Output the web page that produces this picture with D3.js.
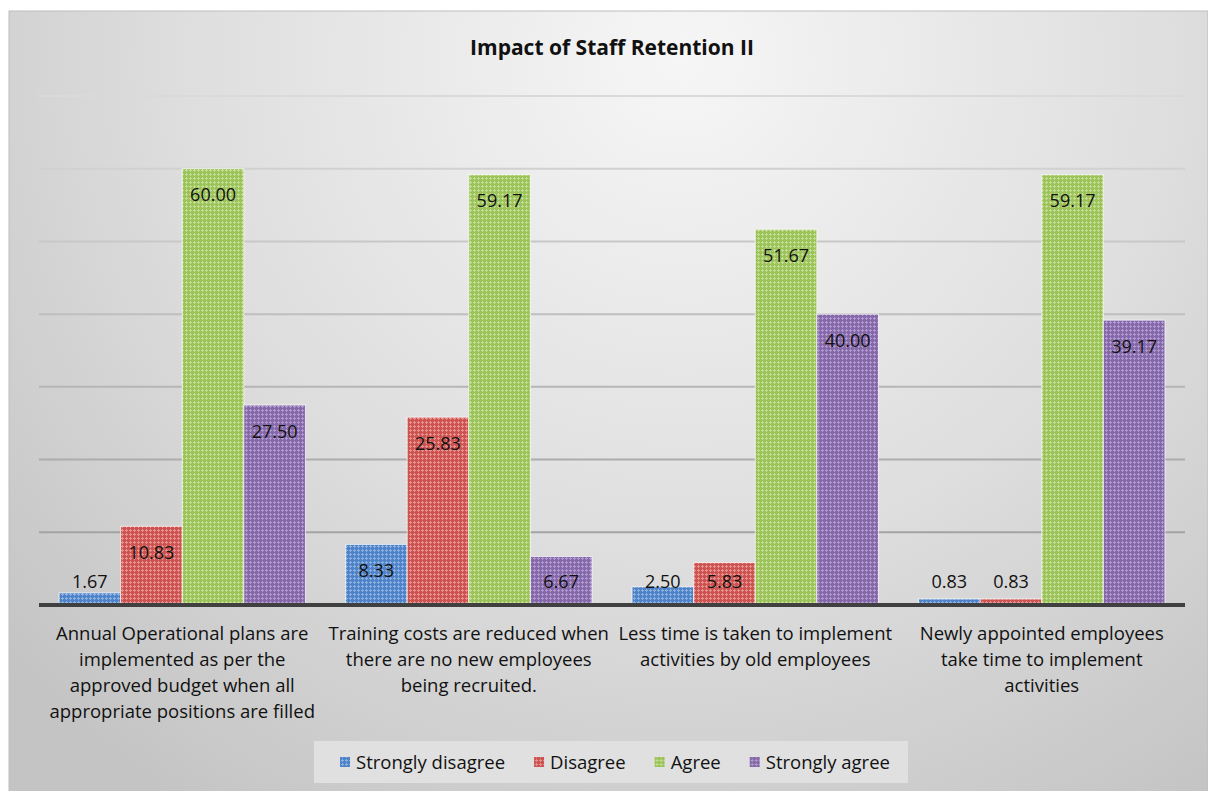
<!DOCTYPE html>
<html lang="en">

<head>
    <meta charset="UTF-8">
    <title>Impact of Staff Retention II</title>
    <script src="https://d3js.org/d3.v7.min.js"></script>
    <style>
        body {
            margin: 0;
            background-color: white;
        }

        #chart text {
            font-family: "Open Sans", Lato, sans-serif;
            fill: #111;
        }
    </style>
</head>

<body>
    <svg id="chart" width="1208" height="791"></svg>
    <script>
        const title = 'Impact of Staff Retention II';

        const categories = [
            ['Annual Operational plans are', 'implemented as per the', 'approved budget when all', 'appropriate positions are filled'],
            ['Training costs are reduced when', 'there are no new employees', 'being recruited.'],
            ['Less time is taken to implement', 'activities by old employees'],
            ['Newly appointed employees', 'take time to implement', 'activities']
        ];

        const seriesNames = ['Strongly disagree', 'Disagree', 'Agree', 'Strongly agree'];

        const stronglyDisagree = [1.67, 8.33, 2.50, 0.83];
        const disagree = [10.83, 25.83, 5.83, 0.83];
        const agree = [60.00, 59.17, 51.67, 59.17];
        const stronglyAgree = [27.50, 6.67, 40.00, 39.17];

        const yTicks = [0, 10, 20, 30, 40, 50, 60, 70];

        const seriesValues = [stronglyDisagree, disagree, agree, stronglyAgree];

        // base colour and the lighter dot colour of each bar pattern
        const colors = [
            { base: '#4f83c8', dot: '#8cb0e0' },
            { base: '#cc534f', dot: '#e59290' },
            { base: '#9cc35a', dot: '#c3dd95' },
            { base: '#8568aa', dot: '#b09acd' }
        ];

        const svg = d3.select('#chart');
        const defs = svg.append('defs');

        // chart background
        const bg = defs.append('radialGradient')
            .attr('id', 'bg')
            .attr('gradientUnits', 'userSpaceOnUse')
            .attr('cx', 680).attr('cy', 60).attr('r', 900);
        bg.append('stop').attr('offset', '0%').attr('stop-color', '#f6f6f6');
        bg.append('stop').attr('offset', '55%').attr('stop-color', '#dedede');
        bg.append('stop').attr('offset', '100%').attr('stop-color', '#c4c4c4');

        const gridGrad = defs.append('linearGradient')
            .attr('id', 'gridGrad')
            .attr('gradientUnits', 'userSpaceOnUse')
            .attr('x1', 0).attr('y1', 96).attr('x2', 0).attr('y2', 605);
        gridGrad.append('stop').attr('offset', '0%').attr('stop-color', '#dadada');
        gridGrad.append('stop').attr('offset', '100%').attr('stop-color', '#9a9a9a');

        colors.forEach((c, i) => {
            const p = defs.append('pattern')
                .attr('id', 'pat' + i)
                .attr('patternUnits', 'userSpaceOnUse')
                .attr('width', 4).attr('height', 4);
            p.append('rect').attr('width', 4).attr('height', 4).attr('fill', c.base);
            p.append('rect').attr('x', 2).attr('y', 1).attr('width', 1).attr('height', 3).attr('fill', c.dot);
            p.append('rect').attr('x', 1).attr('y', 2).attr('width', 3).attr('height', 1).attr('fill', c.dot);
        });

        svg.append('rect')
            .attr('x', 9).attr('y', 11)
            .attr('width', 1199).attr('height', 781)
            .attr('fill', 'url(#bg)')
            .attr('stroke', '#bdbdbd')
            .attr('stroke-width', 1);

        svg.append('text')
            .attr('x', 612).attr('y', 55)
            .attr('text-anchor', 'middle')
            .style('font-size', '21px')
            .style('font-weight', 'bold')
            .text(title);

        const left = 39, right = 1185;

        const y = d3.scaleLinear().domain([0, 70]).range([605, 96]);

        const x0 = d3.scaleBand()
            .domain(d3.range(categories.length))
            .range([left, right])
            .paddingInner(0.14)
            .paddingOuter(0.07);

        const x1 = d3.scaleBand()
            .domain(d3.range(seriesNames.length))
            .range([0, x0.bandwidth()]);

        // gridlines
        svg.append('g')
            .selectAll('line')
            .data(yTicks.slice(1))
            .enter()
            .append('line')
            .attr('x1', left).attr('x2', right)
            .attr('y1', d => y(d)).attr('y2', d => y(d))
            .attr('stroke', 'url(#gridGrad)')
            .attr('stroke-width', 2);

        const bars = [];
        seriesValues.forEach((vals, s) => {
            vals.forEach((v, c) => bars.push({ s: s, c: c, v: v }));
        });

        svg.append('g')
            .selectAll('rect')
            .data(bars)
            .enter()
            .append('rect')
            .attr('x', d => x0(d.c) + x1(d.s))
            .attr('y', d => y(d.v))
            .attr('width', x1.bandwidth())
            .attr('height', d => y(0) - y(d.v))
            .attr('fill', d => 'url(#pat' + d.s + ')')
            .attr('stroke', 'rgba(255,255,255,0.7)')
            .attr('stroke-width', 1);

        // value labels
        svg.append('g')
            .selectAll('text')
            .data(bars)
            .enter()
            .append('text')
            .attr('x', d => x0(d.c) + x1(d.s) + x1.bandwidth() / 2)
            .attr('y', d => Math.min(y(d.v) + 26, y(0) - 24) + 6.5)
            .attr('text-anchor', 'middle')
            .style('font-size', '18px')
            .text(d => d.v.toFixed(2));

        // x axis line
        svg.append('line')
            .attr('x1', left).attr('x2', right)
            .attr('y1', y(0)).attr('y2', y(0))
            .attr('stroke', '#404040')
            .attr('stroke-width', 4);

        // category labels
        const cat = svg.append('g')
            .selectAll('text')
            .data(categories)
            .enter()
            .append('text')
            .attr('text-anchor', 'middle')
            .style('font-size', '18.5px');

        cat.selectAll('tspan')
            .data((d, i) => d.map(line => ({ line: line, i: i })))
            .enter()
            .append('tspan')
            .attr('x', d => x0(d.i) + x0.bandwidth() / 2)
            .attr('y', (d, j) => 639.5 + j * 26)
            .text(d => d.line);

        // legend
        svg.append('rect')
            .attr('x', 314).attr('y', 741)
            .attr('width', 594).attr('height', 42)
            .attr('fill', '#e0e0e0');

        const legend = svg.append('g');
        let lx = 0;
        seriesNames.forEach((name, i) => {
            const item = legend.append('g').attr('transform', 'translate(' + lx + ',0)');
            item.append('rect')
                .attr('x', 0).attr('y', -5)
                .attr('width', 10).attr('height', 10)
                .attr('fill', 'url(#pat' + i + ')');
            const t = item.append('text')
                .attr('x', 16).attr('y', 6.5)
                .style('font-size', '18.5px')
                .text(name);
            lx += 16 + t.node().getComputedTextLength() + 29;
        });
        const legendWidth = lx - 29;
        legend.attr('transform', 'translate(' + (615 - legendWidth / 2) + ',762)');
    </script>
</body>

</html>
